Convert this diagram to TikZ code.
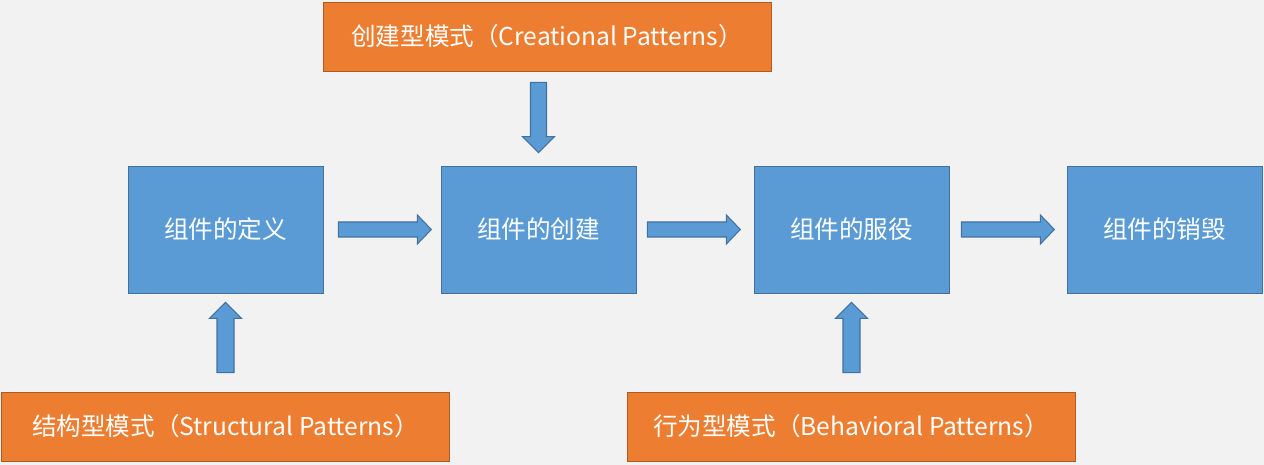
\documentclass[tikz,border=0pt]{standalone}
\usepackage{fontspec}
\usepackage{tikz}
\usetikzlibrary{calc}
\newfontfamily\cjk{Noto Sans CJK SC}
\definecolor{bgray}{HTML}{F2F2F2}
\definecolor{sblue}{HTML}{5B9BD5}
\definecolor{sblueline}{HTML}{41719C}
\definecolor{sorange}{HTML}{ED7D31}
\definecolor{sorangeline}{HTML}{AE5A21}
\tikzset{
  stage/.style={draw=sblueline,fill=sblue,text=white,font=\cjk\fontsize{14pt}{16pt}\selectfont,
    minimum width=3.9cm,minimum height=2.54cm,inner sep=0pt},
  pattern/.style={draw=sorangeline,fill=sorange,text=white,font=\cjk\fontsize{14pt}{16pt}\selectfont,
    minimum width=8.96cm,minimum height=1.38cm,inner sep=0pt},
  blockarrow/.style={draw=sblueline,fill=sblue,line width=0.6pt,line join=miter}
}
\begin{document}
\begin{tikzpicture}[x=0.02cm,y=-0.02cm]
  \fill[bgray] (0,0) rectangle (1264,465); %背景
  \useasboundingbox (0,0) rectangle (1264,465);

  \node[stage] (def) at (225.5,229.5) {组件的定义};
  \node[stage] (cre) at (538.5,229.5) {组件的创建};
  \node[stage] (srv) at (851.5,229.5) {组件的服役};
  \node[stage] (des) at (1164.5,229.5) {组件的销毁};

  \node[pattern] (crep) at (547,36.5) {创建型模式（Creational Patterns）};
  \node[pattern] (strp) at (225.5,426.5) {结构型模式（Structural Patterns）};
  \node[pattern] (behp) at (851,426.5) {行为型模式（Behavioral Patterns）};

  % 横向箭头
  \foreach \a/\b/\s in {def/cre/15,cre/srv/11,srv/des/12}
    \draw[blockarrow] ($(\a.east)+(\s,-7.5)$) -- ++(79,0) -- ++(0,-7)
      -- ++(14,14.5) -- ++(-14,14.5) -- ++(0,-7) -- ++(-79,0) -- cycle;

  % 向下箭头
  \draw[blockarrow] ($(cre.north |- crep.south)+(-8,11)$) -- ($(cre.north)+(-8,-29)$) -- ++(-8,0)
    -- ($(cre.north)+(0,-13)$) -- ($(cre.north)+(16,-29)$) -- ++(-8,0)
    -- ($(cre.north |- crep.south)+(8,11)$) -- cycle;

  % 向上箭头
  \foreach \a/\b in {strp/def,behp/srv}
    \draw[blockarrow] ($(\b.south |- \a.north)+(-8.5,-19)$) -- ($(\b.south)+(-8.5,25)$) -- ++(-7.5,0)
      -- ($(\b.south)+(0,9)$) -- ($(\b.south)+(16,25)$) -- ++(-7.5,0)
      -- ($(\b.south |- \a.north)+(8.5,-19)$) -- cycle;
\end{tikzpicture}
\end{document}
